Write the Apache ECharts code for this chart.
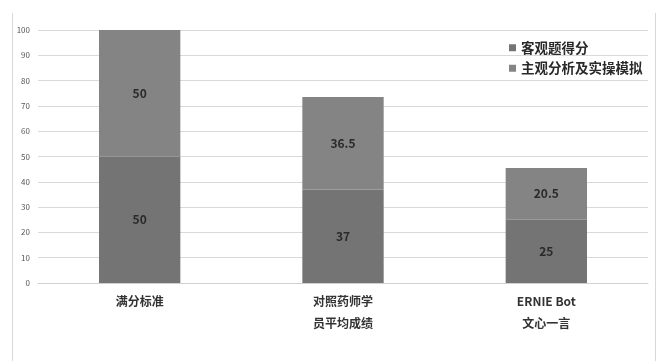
<!DOCTYPE html>
<html><head><meta charset="utf-8">
<script src="https://cdn.jsdelivr.net/npm/echarts@6/dist/echarts.min.js"></script>
<style>html,body{margin:0;padding:0;background:#fff}#c{width:661px;height:361px}</style>
</head><body><div id="c"></div>
<script>
const categories = ['满分标准', '对照药师学\n员平均成绩', 'ERNIE Bot\n文心一言'];
const objectiveScores = [50, 37, 25];
const subjectiveScores = [50, 36.5, 20.5];
const seriesNames = ['客观题得分', '主观分析及实操模拟'];
const yTicks = [0, 10, 20, 30, 40, 50, 60, 70, 80, 90, 100];

const chart = echarts.init(document.getElementById('c'), null, {renderer: 'canvas'});
const font = '"Noto Sans CJK SC", "Open Sans", sans-serif';
const labelStyle = {show: true, position: 'inside', color: '#2a2a2a', fontSize: 12, fontWeight: 'bold', fontFamily: font};
chart.setOption({
  animation: false,
  backgroundColor: '#fff',
  graphic: [
    {type: 'line', shape: {x1: 12.5, y1: 13, x2: 12.5, y2: 361}, style: {stroke: '#d8d8d8', lineWidth: 1}, silent: true},
    {type: 'line', shape: {x1: 655.5, y1: 13, x2: 655.5, y2: 361}, style: {stroke: '#d8d8d8', lineWidth: 1}, silent: true}
  ],
  grid: {left: 38, right: 13, top: 30, bottom: 78},
  legend: {
    orient: 'vertical', left: 504, top: 36, itemGap: 7,
    itemWidth: 7, itemHeight: 7, icon: 'rect',
    textStyle: {fontSize: 13.5, fontWeight: 'bold', color: '#2a2a2a', fontFamily: font},
    data: seriesNames
  },
  xAxis: {
    type: 'category', data: categories,
    axisLine: {lineStyle: {color: '#d0d0d0'}}, axisTick: {show: false},
    axisLabel: {color: '#333', fontSize: 12, fontWeight: 'bold', fontFamily: font, lineHeight: 22, margin: 7}
  },
  yAxis: {
    type: 'value', min: yTicks[0], max: yTicks[yTicks.length - 1], interval: 10,
    axisLine: {show: false}, axisTick: {show: false},
    axisLabel: {color: '#555', fontSize: 8, fontFamily: font, margin: 8},
    splitLine: {lineStyle: {color: '#d9d9d9'}}
  },
  series: [
    {name: seriesNames[0], type: 'bar', stack: 's', data: objectiveScores, barWidth: '40%', itemStyle: {color: '#747474'}, label: labelStyle},
    {name: seriesNames[1], type: 'bar', stack: 's', data: subjectiveScores, barWidth: '40%', itemStyle: {color: '#848484'}, label: labelStyle}
  ]
});
</script></body></html>
